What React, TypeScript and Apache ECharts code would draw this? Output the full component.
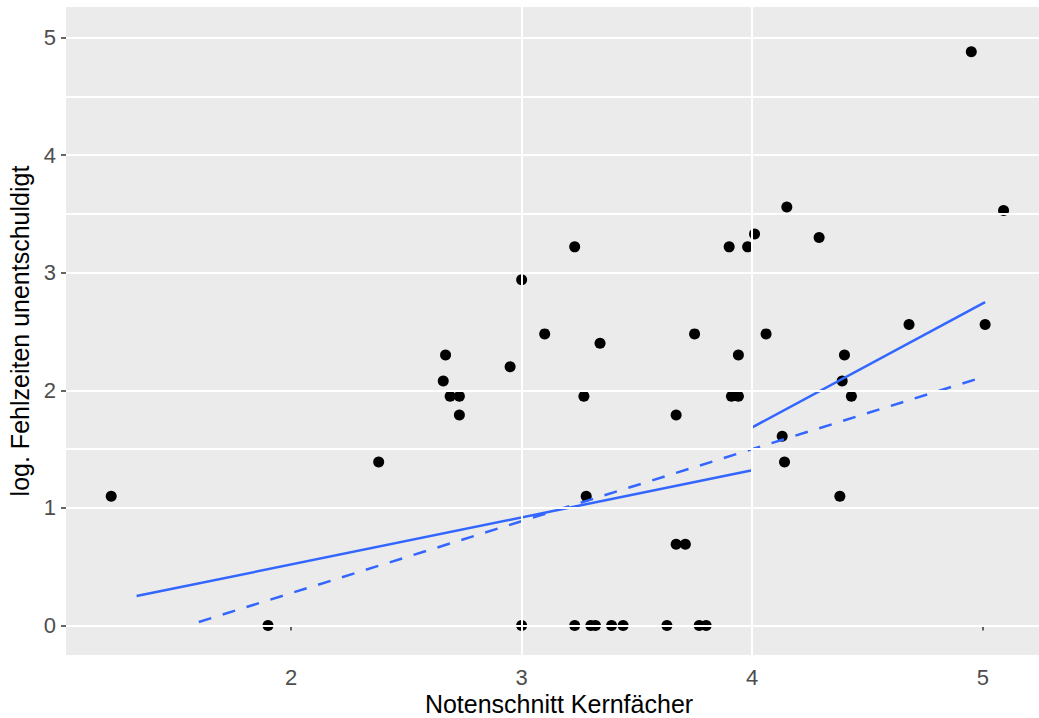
import React, { useEffect, useRef } from "react";
import * as echarts from "echarts";

// Scatter data: Notenschnitt Kernfächer (x) vs log. Fehlzeiten unentschuldigt (y)
const pointX = [
  1.22, 1.9, 2.38, 2.66, 2.67, 2.69, 2.73, 2.73, 2.95, 3.0, 3.0, 3.1, 3.23, 3.23, 3.27, 3.28,
  3.3, 3.32, 3.34, 3.39, 3.44, 3.63, 3.67, 3.67, 3.71, 3.75, 3.77, 3.8, 3.9, 3.91, 3.94, 3.94,
  3.98, 4.01, 4.06, 4.13, 4.14, 4.15, 4.29, 4.38, 4.39, 4.4, 4.43, 4.68, 4.95, 5.01, 5.09,
];
const pointY = [
  1.1, 0, 1.39, 2.08, 2.3, 1.95, 1.95, 1.79, 2.2, 2.94, 0, 2.48, 3.22, 0, 1.95, 1.1,
  0, 0, 2.4, 0, 0, 0, 1.79, 0.69, 0.69, 2.48, 0, 0, 3.22, 1.95, 1.95, 2.3,
  3.22, 3.33, 2.48, 1.61, 1.39, 3.56, 3.3, 1.1, 2.08, 2.3, 1.95, 2.56, 4.88, 2.56, 3.53,
];

// Fitted lines (endpoints)
const fitLeftX = [1.33, 4.0];
const fitLeftY = [0.25, 1.32];
const fitRightX = [4.0, 5.01];
const fitRightY = [1.685, 2.75];
const fitDashX = [1.6, 4.98];
const fitDashY = [0.03, 2.1];

// Axis ticks and gridlines
const xTicks = [2, 3, 4, 5];
const yTicks = [0, 1, 2, 3, 4, 5];
const xGridLines = [3, 4];
const yGridLines = [0, 1, 1.5, 2, 3, 3.5, 4, 4.5, 5];

const xTitle = "Notenschnitt Kernfächer";
const yTitle = "log. Fehlzeiten unentschuldigt";

const FONT = "'Liberation Sans', Arial, Helvetica, sans-serif";
const BLUE = "#3366FF";

function pairs(xs: number[], ys: number[]) {
  return xs.map((x, i) => [x, ys[i]]);
}

export default function App() {
  const ref = useRef<HTMLDivElement>(null);

  useEffect(() => {
    if (!ref.current) return;
    const chart = echarts.init(ref.current, undefined, { renderer: "svg" });
    const axisLabel = { color: "#4D4D4D", fontSize: 22, lineHeight: 18, fontFamily: FONT };
    chart.setOption({
      animation: false,
      backgroundColor: "#FFFFFF",
      grid: {
        left: 66,
        right: 0,
        top: 7,
        bottom: 63,
        containLabel: false,
        outerBoundsMode: "none",
        show: true,
        backgroundColor: "#EBEBEB",
        borderWidth: 0,
      },
      xAxis: {
        type: "value",
        min: 1.024,
        max: 5.3,
        name: xTitle,
        nameLocation: "middle",
        nameGap: 36,
        nameMoveOverlap: false,
        nameTextStyle: { color: "#000", fontSize: 25, lineHeight: 25, fontFamily: FONT },
        axisLine: { show: false },
        axisTick: {
          show: true,
          length: 5,
          customValues: xTicks,
          lineStyle: { color: "#333333", width: 1.5 },
        },
        axisLabel: { ...axisLabel, margin: 13, customValues: xTicks },
        splitLine: { show: false },
      },
      yAxis: {
        type: "value",
        min: -0.251,
        max: 5.26,
        name: yTitle,
        nameLocation: "middle",
        nameGap: 29,
        nameTextStyle: { color: "#000", fontSize: 25, fontFamily: FONT },
        axisLine: { show: false },
        axisTick: {
          show: true,
          length: 5,
          customValues: yTicks,
          lineStyle: { color: "#333333", width: 1.5 },
        },
        axisLabel: { ...axisLabel, margin: 10, customValues: yTicks },
        splitLine: { show: false },
      },
      series: [
        {
          type: "line",
          data: [],
          z: 1,
          silent: true,
          markLine: {
            silent: true,
            symbol: ["none", "none"],
            label: { show: false },
            animation: false,
            lineStyle: { color: "#FFFFFF", width: 2, type: "solid" },
            emphasis: { disabled: true },
            data: [
              ...yGridLines.map((v) => ({ yAxis: v })),
              ...xGridLines.map((v) => ({ xAxis: v })),
            ],
          },
        },
        {
          type: "scatter",
          data: pairs(pointX, pointY),
          symbol: "circle",
          symbolSize: 11,
          itemStyle: { color: "#000000", opacity: 1 },
          z: 2,
          silent: true,
        },
        {
          type: "line",
          data: pairs(fitLeftX, fitLeftY),
          showSymbol: false,
          lineStyle: { color: BLUE, width: 2.5 },
          z: 3,
          silent: true,
        },
        {
          type: "line",
          data: pairs(fitRightX, fitRightY),
          showSymbol: false,
          lineStyle: { color: BLUE, width: 2.5 },
          z: 3,
          silent: true,
        },
        {
          type: "line",
          data: pairs(fitDashX, fitDashY),
          showSymbol: false,
          lineStyle: { color: BLUE, width: 2.5, type: [13, 12] },
          z: 3,
          silent: true,
        },
      ],
    });
    return () => chart.dispose();
  }, []);

  return (
    <div
      style={{
        position: "fixed",
        left: 0,
        top: 0,
        width: 1039,
        height: 718,
        overflow: "hidden",
        background: "#fff",
      }}
    >
      <div ref={ref} style={{ width: 1052, height: 718 }} />
    </div>
  );
}
